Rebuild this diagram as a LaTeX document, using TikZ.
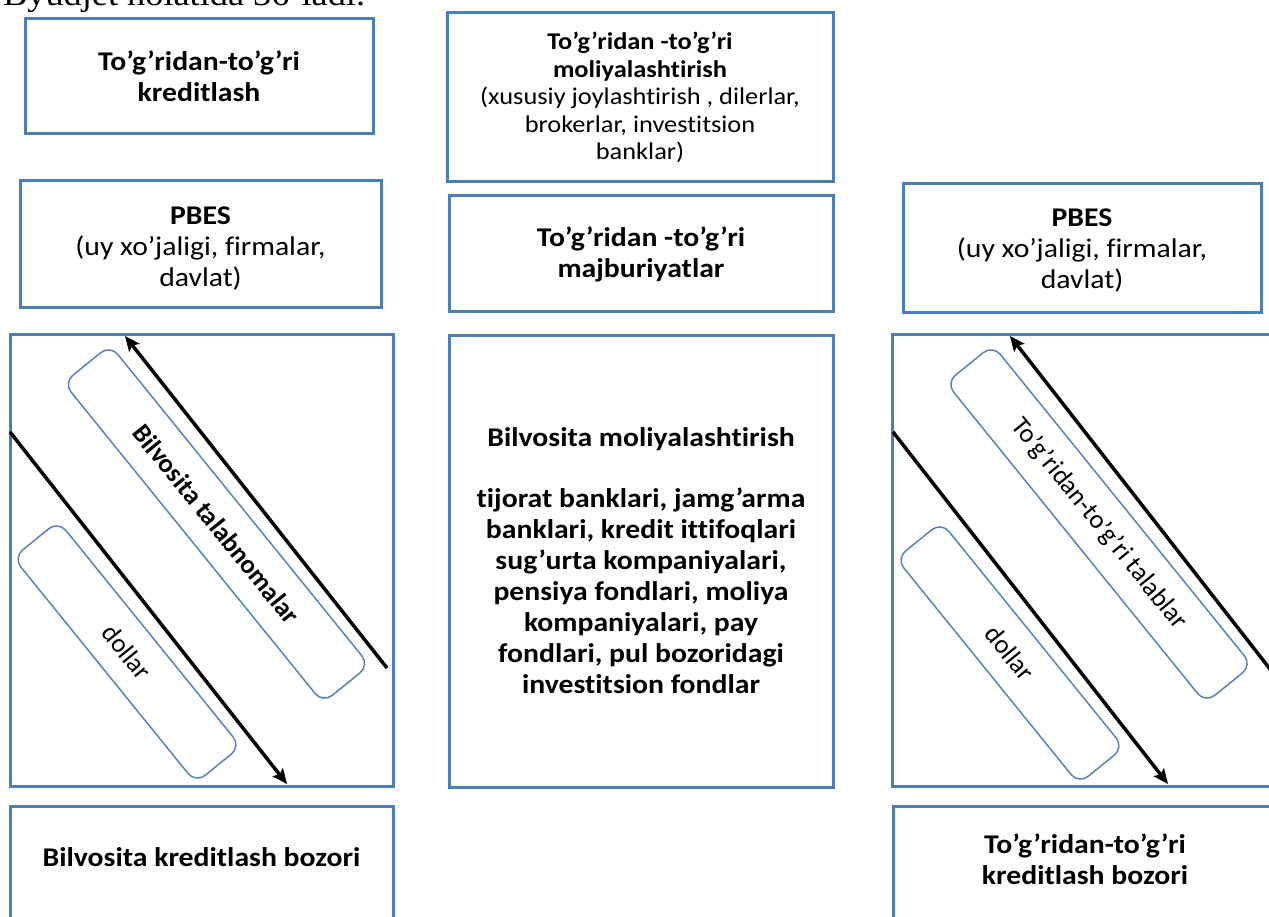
\documentclass[tikz,border=0pt]{standalone}
\usepackage{fontspec}
\setmainfont{Carlito}[FakeStretch=1.1, Ligatures=NoCommon]
\newfontfamily\slantlabel{Carlito}[Ligatures=NoCommon]
\newfontfamily\runningtext{Liberation Serif}[FakeStretch=1.1]
\usetikzlibrary{arrows.meta}
\definecolor{boxblue}{RGB}{74,126,187}
\definecolor{pillblue}{RGB}{86,132,186}
\begin{document}
\begin{tikzpicture}[x=1pt,y=-1pt,
  panel/.style={draw=boxblue, line width=3pt, fill=white, inner sep=0pt,
    align=center, font=\fontsize{27}{31}\selectfont},
  smallpanel/.style={panel, font=\fontsize{24}{27.5}\selectfont},
  pill/.style={draw=pillblue, line width=1.5pt, rounded corners=12pt,
    inner sep=0pt, font=\slantlabel\fontsize{26.5}{30}\selectfont},
  flow/.style={line width=3.5pt, -{Stealth[length=15pt,width=13pt,inset=3pt]}},
  caption/.style={align=center, inner sep=0pt, font=\fontsize{27}{31}\selectfont}]
\useasboundingbox (0,0) rectangle (1269,917);
\clip (0,0) rectangle (1269,917);
\fill[white] (0,0) rectangle (1269,917);

% running text of the page above the scheme
\node[anchor=base west, inner sep=0pt, font=\runningtext\fontsize{33}{36}\selectfont]
  (pagetext) at (3,6) {Byudjet holatida 36-ladi.};

% upper row
\node[panel, minimum width=348, minimum height=115] (direct) at (199,76.5)
  {\bfseries To’g’ridan-to’g’ri\\ \bfseries kreditlash};
\node[smallpanel, minimum width=386, minimum height=169] (directfin) at (640,97.5)
  {\bfseries To’g’ridan -to’g’ri\\ \bfseries moliyalashtirish\\
   (xususiy joylashtirish , dilerlar,\\ brokerlar, investitsion\\ banklar)};

% second row
\node[panel, minimum width=361, minimum height=127] (pbesL) at (200.5,244.5) {};
\node[caption] (pbesLtext) at (200.5,249)
  {\bfseries PBES\\ (uy xo’jaligi, firmalar,\\ davlat)};
\node[panel, minimum width=384, minimum height=116] (oblig) at (641,254)
  {\bfseries To’g’ridan -to’g’ri\\ \bfseries majburiyatlar};
\node[panel, minimum width=358, minimum height=129] (pbesR) at (1082,248.5) {};
\node[caption] (pbesRtext) at (1082,251)
  {\bfseries PBES\\ (uy xo’jaligi, firmalar,\\ davlat)};

% middle row
\node[panel, minimum width=383, minimum height=452] (flowL) at (201.5,560) {};
\node[panel, minimum width=384, minimum height=452] (indirect) at (641,561)
  {\bfseries Bilvosita moliyalashtirish\\[30pt]
   \bfseries tijorat banklari, jamg’arma\\
   \bfseries banklari, kredit ittifoqlari\\
   \bfseries sug’urta kompaniyalari,\\
   \bfseries pensiya fondlari, moliya\\
   \bfseries kompaniyalari, pay\\
   \bfseries fondlari, pul bozoridagi\\
   \bfseries investitsion fondlar};
\node[panel, minimum width=408, minimum height=452] (flowR) at (1096,560) {};

% bottom row
\node[panel, minimum width=383, minimum height=150] (marketL) at (201.5,881) {};
\node[panel, minimum width=400, minimum height=150] (marketR) at (1093,881) {};
\node[caption] (marketLtext) at (201.5,857) {\bfseries Bilvosita kreditlash bozori};
\node[caption] (marketRtext) at (1085,859)
  {\bfseries To’g’ridan-to’g’ri\\ \bfseries kreditlash bozori};

% left flows
\node[pill, minimum width=412, minimum height=60, rotate=-51] (claimsL) at (216.5,524)
  {\bfseries Bilvosita talabnomalar};
\node[pill, minimum width=290, minimum height=58, rotate=-51] (dollarL) at (127,652)
  {dollar};
\coordinate (upL-start) at (387,668);
\coordinate (upL-end) at (125,336);
\coordinate (downL-start) at (10,432);
\coordinate (downL-end) at (287,784);
\draw[flow] (upL-start) -- (upL-end);
\draw[flow] (downL-start) -- (downL-end);

% right flows
\node[pill, minimum width=412, minimum height=60, rotate=-51] (claimsR) at (1099,524)
  {To’g’ridan-to’g’ri talablar};
\node[pill, minimum width=290, minimum height=58, rotate=-51] (dollarR) at (1010,653)
  {dollar};
\coordinate (upR-start) at (1277,678);
\coordinate (upR-end) at (1010,336);
\coordinate (downR-start) at (893,432);
\coordinate (downR-end) at (1168,784);
\draw[flow] (upR-start) -- (upR-end);
\draw[flow] (downR-start) -- (downR-end);
\end{tikzpicture}
\end{document}
